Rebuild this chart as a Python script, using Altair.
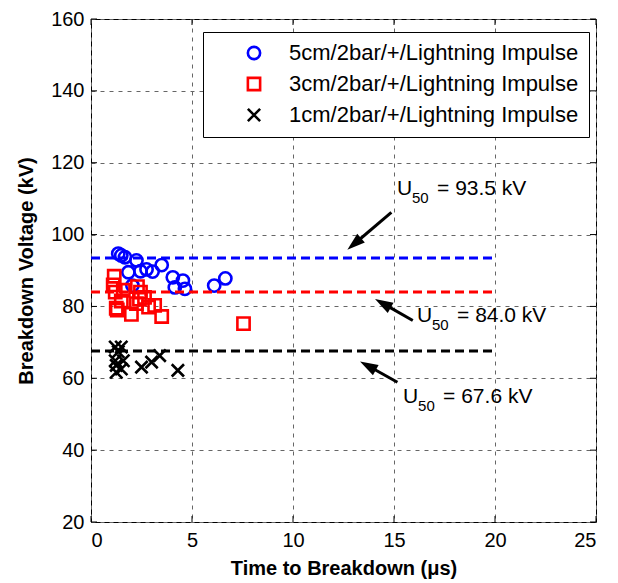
import math
import altair as alt
import pandas as pd

# ---- data -------------------------------------------------------------
SERIES = [
    "5cm/2bar/+/Lightning Impulse",
    "3cm/2bar/+/Lightning Impulse",
    "1cm/2bar/+/Lightning Impulse",
]
COLORS = ["#0000ff", "#ff0000", "#000000"]
SHAPES = ["circle", "square", "M-1,-1L1,1M1,-1L-1,1"]

# time to breakdown (us) / breakdown voltage (kV)
t_5cm = [1.35, 1.50, 1.68, 2.25, 1.85, 2.45, 2.75, 3.05, 3.50, 2.05, 4.05, 4.55, 4.15, 4.65, 6.10, 6.65]
u_5cm = [94.7, 94.2, 93.7, 92.8, 89.5, 89.8, 90.3, 89.7, 91.5, 85.8, 88.1, 87.2, 85.3, 84.9, 85.8, 87.8]

t_3cm = [1.15, 1.10, 1.20, 1.60, 2.30, 2.45, 1.25, 1.50, 1.30, 2.00, 2.25, 2.65, 2.85, 3.15, 3.50, 7.55, 2.40]
u_3cm = [88.4, 86.0, 84.0, 84.5, 85.5, 84.0, 79.5, 81.5, 79.0, 77.8, 80.8, 82.5, 79.8, 80.3, 77.2, 75.2, 82.0]

t_1cm = [1.20, 1.50, 1.35, 1.20, 1.60, 1.25, 1.50, 1.25, 2.50, 3.00, 3.40, 4.30]
u_1cm = [68.7, 68.7, 67.4, 64.9, 64.9, 63.6, 62.6, 61.7, 63.1, 64.5, 66.3, 62.2]

# 50 % breakdown levels, drawn from t = 0 to U50_END
U50 = [93.5, 84.0, 67.6]
U50_LABELS = ["= 93.5 kV", "= 84.0 kV", "= 67.6 kV"]
U50_END = 20

# annotation anchors and arrows (data units)
LABEL_T = [15.15, 16.14, 15.45]
LABEL_U = [112.6, 77.4, 54.9]
ARROW_TAIL_T = [14.87, 15.93, 15.17]
ARROW_TAIL_U = [106.2, 76.1, 58.9]
ARROW_TIP_T = [12.69, 14.06, 13.32]
ARROW_TIP_U = [95.75, 82.1, 64.7]

X_TICKS = [0, 5, 10, 15, 20, 25]
Y_TICKS = [20, 40, 60, 80, 100, 120, 140, 160]
X_DOMAIN = [0, 25]
Y_DOMAIN = [20, 160]

# ---- layout -----------------------------------------------------------
W, H = 505, 503
FONT = "Arial, Liberation Sans, Helvetica, sans-serif"
PX_T = W / (X_DOMAIN[1] - X_DOMAIN[0])
PX_U = H / (Y_DOMAIN[1] - Y_DOMAIN[0])
HEAD = 18  # arrow head length in px

xs = alt.Scale(domain=X_DOMAIN, nice=False, zero=False)
ys = alt.Scale(domain=Y_DOMAIN, nice=False, zero=False)

rows = []
for name, ts, us in zip(SERIES, [t_5cm, t_3cm, t_1cm], [u_5cm, u_3cm, u_1cm]):
    for t, u in zip(ts, us):
        rows.append({"t": t, "u": u, "series": name})
pts = pd.DataFrame(rows)

x_axis = alt.Axis(
    values=X_TICKS, ticks=False, domain=False, labelFontSize=20, labelPadding=8,
    labelFont=FONT, title="Time to Breakdown (\u03bcs)", titleFont=FONT,
    titleFontSize=20, titleFontWeight="bold", titlePadding=8,
    grid=True, gridDash=[4, 5], gridColor="#666666", gridWidth=1,
)
y_axis = alt.Axis(
    values=Y_TICKS, ticks=False, domain=False, labelFontSize=20, labelPadding=7,
    labelFont=FONT, title="Breakdown Voltage (kV)", titleFont=FONT,
    titleFontSize=20, titleFontWeight="bold", titlePadding=14,
    grid=True, gridDash=[4, 5], gridColor="#666666", gridWidth=1,
)

legend = alt.Legend(
    title=None, orient="none", legendX=112, legendY=13,
    fillColor="white", strokeColor="black", padding=10,
    labelFont=FONT, labelFontSize=22, labelColor="black", labelLimit=400,
    symbolSize=140, symbolStrokeWidth=3, symbolOffset=30, labelOffset=24,
    rowPadding=7,
)

points = alt.Chart(pts).mark_point(filled=False, opacity=1).encode(
    x=alt.X("t:Q", scale=xs, axis=x_axis),
    y=alt.Y("u:Q", scale=ys, axis=y_axis),
    color=alt.Color("series:N", scale=alt.Scale(domain=SERIES, range=COLORS), legend=legend),
    shape=alt.Shape("series:N", scale=alt.Scale(domain=SERIES, range=SHAPES), legend=legend),
    size=alt.Size("series:N", scale=alt.Scale(domain=SERIES, range=[150, 150, 64]), legend=None),
    strokeWidth=alt.StrokeWidth("series:N", scale=alt.Scale(domain=SERIES, range=[2.6, 2.6, 3.5]),
                                legend=None),
)

# U50 levels
lev = pd.DataFrame({"u": U50, "t0": [0] * 3, "t1": [U50_END] * 3, "c": COLORS})
levels = alt.Chart(lev).mark_rule(strokeWidth=3, strokeDash=[9, 5]).encode(
    x=alt.X("t0:Q", scale=xs), x2="t1:Q", y=alt.Y("u:Q", scale=ys),
    stroke=alt.Stroke("c:N", scale=None),
)

# annotation text: "U" with subscript "50" then the value
ann = pd.DataFrame({"t": LABEL_T, "u": LABEL_U, "rest": U50_LABELS, "u_": ["U"] * 3, "sub": ["50"] * 3})
base_txt = alt.Chart(ann).encode(x=alt.X("t:Q", scale=xs), y=alt.Y("u:Q", scale=ys))
txt_u = base_txt.mark_text(align="left", baseline="middle", font=FONT, fontSize=21, color="black").encode(text="u_:N")
txt_sub = base_txt.mark_text(align="left", baseline="middle", font=FONT, fontSize=15, dx=15, dy=9, color="black").encode(text="sub:N")
txt_rest = base_txt.mark_text(align="left", baseline="middle", font=FONT, fontSize=21, dx=40, color="black").encode(text="rest:N")

# arrows: shaft + filled head
arr_rows = []
for t0, u0, t1, u1 in zip(ARROW_TAIL_T, ARROW_TAIL_U, ARROW_TIP_T, ARROW_TIP_U):
    dx = (t1 - t0) * PX_T
    dy = -(u1 - u0) * PX_U
    length = math.hypot(dx, dy)
    ux, uy = dx / length, dy / length
    hx = t1 - ux * HEAD / 2 / PX_T
    hy = u1 + uy * HEAD / 2 / PX_U
    ang = math.degrees(math.atan2(dx, -dy)) % 360
    arr_rows.append({"t0": t0, "u0": u0, "t1": hx, "u1": hy, "ang": ang})
arr = pd.DataFrame(arr_rows)
shafts = alt.Chart(arr).mark_rule(strokeWidth=3, color="black").encode(
    x=alt.X("t0:Q", scale=xs), y=alt.Y("u0:Q", scale=ys), x2="t1:Q", y2="u1:Q",
)
heads = alt.Chart(arr).mark_point(
    shape="M0,-1L0.65,1L-0.65,1Z", filled=True, color="black", size=HEAD * HEAD, opacity=1,
).encode(
    x=alt.X("t1:Q", scale=xs), y=alt.Y("u1:Q", scale=ys), angle=alt.Angle("ang:Q", scale=None),
)

# inward tick marks on all four sides
xt = pd.DataFrame({"v": X_TICKS})
yt = pd.DataFrame({"v": Y_TICKS})
tick_x_bot = alt.Chart(xt).mark_rule(color="black").encode(
    x=alt.X("v:Q", scale=xs), y=alt.value(H), y2=alt.value(H - 6))
tick_x_top = alt.Chart(xt).mark_rule(color="black").encode(
    x=alt.X("v:Q", scale=xs), y=alt.value(0), y2=alt.value(6))
tick_y_left = alt.Chart(yt).mark_rule(color="black").encode(
    y=alt.Y("v:Q", scale=ys), x=alt.value(0), x2=alt.value(6))
tick_y_right = alt.Chart(yt).mark_rule(color="black").encode(
    y=alt.Y("v:Q", scale=ys), x=alt.value(W - 6), x2=alt.value(W))

chart = alt.layer(
    tick_x_bot, tick_x_top, tick_y_left, tick_y_right,
    points, levels, shafts, heads, txt_u, txt_sub, txt_rest,
).properties(
    width=W, height=H,
    autosize=alt.AutoSizeParams(type="none"),
    padding={"left": 91, "top": 19, "right": 22, "bottom": 61},
    background="white",
).configure_view(
    stroke="black", strokeWidth=1,
)

chart.save("out.html", embed_options={"renderer": "svg", "actions": False})
